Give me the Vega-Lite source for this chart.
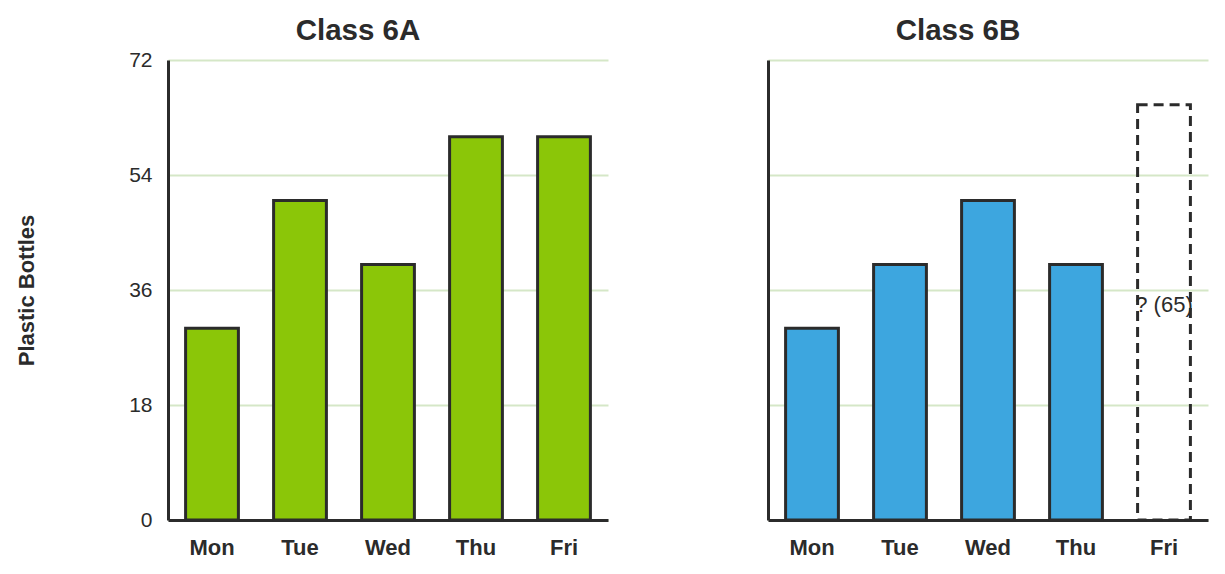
{
  "$schema": "https://vega.github.io/schema/vega-lite/v6.json",
  "padding": {"left": 15, "top": 15, "right": 5, "bottom": 5},
  "spacing": 160,
  "config": {
    "view": {"stroke": null},
    "font": "Liberation Sans",
    "axis": {
      "domainColor": "#2b2b2b",
      "domainWidth": 3,
      "ticks": false,
      "gridColor": "#d5e7c7",
      "gridWidth": 2,
      "labelColor": "#2b2b2b",
      "titleColor": "#2b2b2b"
    },
    "title": {"fontSize": 29.5, "fontWeight": "bold", "color": "#2b2b2b", "dx": -30}
  },
  "datasets": {
    "bottles": [
      {"cls": "6A", "day": "Mon", "bottles": 30, "status": "known", "label": ""},
      {"cls": "6A", "day": "Tue", "bottles": 50, "status": "known", "label": ""},
      {"cls": "6A", "day": "Wed", "bottles": 40, "status": "known", "label": ""},
      {"cls": "6A", "day": "Thu", "bottles": 60, "status": "known", "label": ""},
      {"cls": "6A", "day": "Fri", "bottles": 60, "status": "known", "label": ""},
      {"cls": "6B", "day": "Mon", "bottles": 30, "status": "known", "label": ""},
      {"cls": "6B", "day": "Tue", "bottles": 40, "status": "known", "label": ""},
      {"cls": "6B", "day": "Wed", "bottles": 50, "status": "known", "label": ""},
      {"cls": "6B", "day": "Thu", "bottles": 40, "status": "known", "label": ""},
      {"cls": "6B", "day": "Fri", "bottles": 65, "status": "unknown", "label": "? (65)"}
    ]
  },
  "hconcat": [
    {
      "width": 440,
      "height": 460,
      "title": {"text": "Class 6A", "offset": 3},
      "data": {"name": "bottles"},
      "transform": [{"filter": "datum.cls === '6A'"}],
      "mark": {"type": "bar", "fill": "#8bc608", "stroke": "#2b2b2b", "strokeWidth": 3},
      "encoding": {
        "x": {
          "field": "day", "type": "nominal",
          "sort": ["Mon", "Tue", "Wed", "Thu", "Fri"],
          "scale": {"paddingInner": 0.4, "paddingOuter": 0.2},
          "axis": {"title": null, "labelAngle": 0, "labelFontSize": 22, "labelFontWeight": "bold", "labelPadding": 17, "grid": false}
        },
        "y": {
          "field": "bottles", "type": "quantitative",
          "scale": {"domain": [0, 72]},
          "axis": {"values": [0, 18, 36, 54, 72], "title": "Plastic Bottles", "titleFontSize": 22, "titleFontWeight": "bold", "titlePadding": 90, "labelFontSize": 21, "labelPadding": 16, "grid": true}
        }
      }
    },
    {
      "width": 440,
      "height": 460,
      "title": {"text": "Class 6B", "offset": 14},
      "data": {"name": "bottles"},
      "transform": [{"filter": "datum.cls === '6B'"}],
      "encoding": {
        "x": {
          "field": "day", "type": "nominal",
          "sort": ["Mon", "Tue", "Wed", "Thu", "Fri"],
          "scale": {"paddingInner": 0.4, "paddingOuter": 0.2},
          "axis": {"title": null, "labelAngle": 0, "labelFontSize": 22, "labelFontWeight": "bold", "labelPadding": 17, "grid": false}
        },
        "y": {
          "field": "bottles", "type": "quantitative",
          "scale": {"domain": [0, 72]},
          "axis": {"values": [0, 18, 36, 54, 72], "title": null, "labels": false, "grid": true}
        }
      },
      "layer": [
        {
          "transform": [{"filter": "datum.status === 'known'"}],
          "mark": {"type": "bar", "fill": "#3da6df", "stroke": "#2b2b2b", "strokeWidth": 3}
        },
        {
          "transform": [{"filter": "datum.status === 'unknown'"}],
          "mark": {"type": "bar", "fill": null, "fillOpacity": 0, "stroke": "#2b2b2b", "strokeWidth": 3, "strokeDash": [10, 6]}
        },
        {
          "transform": [{"filter": "datum.status === 'unknown'"}],
          "mark": {"type": "text", "fontSize": 22, "color": "#2b2b2b", "baseline": "alphabetic", "align": "center"},
          "encoding": {
            "y": {"datum": 32.5, "type": "quantitative"},
            "text": {"field": "label"}
          }
        }
      ]
    }
  ]
}
